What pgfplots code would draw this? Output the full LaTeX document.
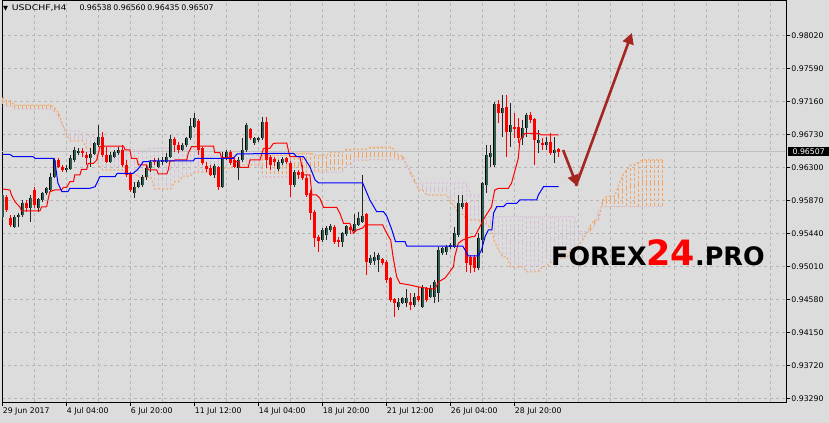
\documentclass[border=0pt]{standalone}
\usepackage{fontspec}
\setmainfont{DejaVu Sans}
\usepackage{pgfplots}
\pgfplotsset{compat=1.18}
\usepackage{pgfplotstable}
\usetikzlibrary{arrows.meta}
\definecolor{bg}{RGB}{220,220,220}
\definecolor{gridc}{RGB}{182,182,182}
\definecolor{bullc}{RGB}{46,92,78}
\definecolor{sandy}{RGB}{244,164,96}
\definecolor{thist}{RGB}{216,191,216}
\definecolor{arrowc}{RGB}{165,38,32}
\definecolor{pricec}{RGB}{192,192,192}
\pgfplotsset{nomark/.style={only marks, mark=*, mark size=0pt, mark options={draw=none, fill=none}}}

\pgfplotstableread{
i o h l c
0 0.95655 0.95968 0.95616 0.95942
1 0.95916 0.95942 0.95721 0.95747
2 0.95642 0.95681 0.95525 0.95551
3 0.95525 0.95681 0.95512 0.95655
4 0.95655 0.95708 0.95525 0.95681
5 0.95681 0.95877 0.95655 0.95838
6 0.95838 0.95877 0.95721 0.95773
7 0.95773 0.95942 0.95590 0.95903
8 0.96008 0.96047 0.95773 0.95812
9 0.95773 0.95903 0.95721 0.95890
10 0.95877 0.95981 0.95851 0.95968
11 0.95968 0.96047 0.95942 0.96034
12 0.96008 0.96229 0.95981 0.96177
13 0.96177 0.96425 0.96164 0.96399
14 0.96399 0.96425 0.96294 0.96308
15 0.96308 0.96334 0.96242 0.96268
16 0.96268 0.96334 0.96242 0.96294
17 0.96281 0.96464 0.96268 0.96425
18 0.96399 0.96568 0.96373 0.96529
19 0.96490 0.96555 0.96464 0.96516
20 0.96516 0.96555 0.96438 0.96490
21 0.96464 0.96503 0.96334 0.96425
22 0.96425 0.96555 0.96308 0.96477
23 0.96477 0.96634 0.96464 0.96621
24 0.96595 0.96855 0.96568 0.96699
25 0.96699 0.96764 0.96438 0.96464
26 0.96464 0.96568 0.96360 0.96373
27 0.96373 0.96503 0.96360 0.96464
28 0.96438 0.96529 0.96425 0.96503
29 0.96490 0.96568 0.96464 0.96529
30 0.96529 0.96595 0.96308 0.96334
31 0.96334 0.96399 0.96177 0.96203
32 0.96229 0.96242 0.95981 0.96008
33 0.95968 0.96112 0.95903 0.96047
34 0.96047 0.96138 0.96034 0.96112
35 0.96073 0.96203 0.96047 0.96177
36 0.96177 0.96334 0.96138 0.96294
37 0.96294 0.96399 0.96242 0.96373
38 0.96399 0.96425 0.96334 0.96373
39 0.96308 0.96425 0.96294 0.96386
40 0.96373 0.96438 0.96334 0.96399
41 0.96373 0.96490 0.96360 0.96438
42 0.96438 0.96725 0.96425 0.96673
43 0.96673 0.96699 0.96503 0.96595
44 0.96595 0.96634 0.96490 0.96529
45 0.96529 0.96621 0.96516 0.96595
46 0.96595 0.96699 0.96568 0.96686
47 0.96686 0.96947 0.96660 0.96842
48 0.96829 0.97012 0.96816 0.96947
49 0.96908 0.96934 0.96464 0.96529
50 0.96555 0.96568 0.96334 0.96360
51 0.96321 0.96373 0.96242 0.96281
52 0.96294 0.96334 0.96190 0.96203
53 0.96203 0.96347 0.96164 0.96321
54 0.96308 0.96321 0.96008 0.96047
55 0.96047 0.96503 0.96034 0.96438
56 0.96425 0.96529 0.96399 0.96503
57 0.96503 0.96529 0.96334 0.96360
58 0.96399 0.96425 0.96294 0.96308
59 0.96294 0.96438 0.96138 0.96399
60 0.96399 0.96686 0.96373 0.96529
61 0.96529 0.96882 0.96503 0.96855
62 0.96803 0.96816 0.96660 0.96686
63 0.96621 0.96699 0.96595 0.96686
64 0.96660 0.96699 0.96634 0.96686
65 0.96686 0.96960 0.96660 0.96895
66 0.96895 0.96960 0.96294 0.96399
67 0.96438 0.96464 0.96268 0.96334
68 0.96412 0.96438 0.96321 0.96373
69 0.96281 0.96399 0.96255 0.96373
70 0.96360 0.96438 0.96334 0.96412
71 0.96425 0.96438 0.96347 0.96373
72 0.96360 0.96386 0.95916 0.96073
73 0.96073 0.96268 0.96047 0.96242
74 0.96242 0.96268 0.96151 0.96203
75 0.96242 0.96334 0.96138 0.96164
76 0.96164 0.96203 0.95916 0.95942
77 0.95968 0.96008 0.95616 0.95708
78 0.95721 0.95747 0.95264 0.95381
79 0.95394 0.95421 0.95199 0.95342
80 0.95355 0.95512 0.95329 0.95486
81 0.95421 0.95538 0.95355 0.95512
82 0.95486 0.95564 0.95460 0.95538
83 0.95525 0.95551 0.95303 0.95329
84 0.95355 0.95394 0.95264 0.95329
85 0.95329 0.95460 0.95264 0.95447
86 0.95434 0.95551 0.95407 0.95538
87 0.95525 0.95551 0.95434 0.95486
88 0.95473 0.95694 0.95460 0.95564
89 0.95551 0.95721 0.95538 0.95642
90 0.95590 0.96203 0.95577 0.95668
91 0.95694 0.95708 0.94899 0.95068
92 0.95055 0.95160 0.95029 0.95120
93 0.95081 0.95199 0.95029 0.95134
94 0.95094 0.95186 0.94938 0.95160
95 0.95107 0.95120 0.95029 0.95055
96 0.95068 0.95094 0.94794 0.94833
97 0.94860 0.94873 0.94546 0.94573
98 0.94586 0.94599 0.94351 0.94533
99 0.94481 0.94599 0.94442 0.94546
100 0.94533 0.94612 0.94520 0.94599
101 0.94533 0.94716 0.94481 0.94599
102 0.94546 0.94664 0.94442 0.94507
103 0.94507 0.94664 0.94481 0.94612
104 0.94625 0.94742 0.94546 0.94573
105 0.94481 0.94768 0.94468 0.94742
106 0.94729 0.94742 0.94546 0.94573
107 0.94612 0.94768 0.94599 0.94729
108 0.94612 0.94833 0.94533 0.94807
109 0.94664 0.95264 0.94546 0.95225
110 0.95186 0.95264 0.95160 0.95251
111 0.95199 0.95290 0.95160 0.95264
112 0.95264 0.95316 0.95238 0.95290
113 0.95264 0.95525 0.95251 0.95447
114 0.95421 0.95942 0.95394 0.95838
115 0.95786 0.95942 0.95760 0.95838
116 0.95838 0.95851 0.94938 0.95055
117 0.95134 0.95160 0.94925 0.95029
118 0.95134 0.95160 0.94938 0.94990
119 0.94990 0.95447 0.94964 0.95381
120 0.95355 0.96112 0.95186 0.96099
121 0.96073 0.96595 0.95968 0.96464
122 0.96438 0.96595 0.96308 0.96490
123 0.96334 0.97155 0.96308 0.97129
124 0.97129 0.97182 0.96882 0.97012
125 0.97012 0.97247 0.96699 0.97077
126 0.97090 0.97247 0.96438 0.96764
127 0.96764 0.97142 0.96568 0.96855
128 0.96829 0.97012 0.96686 0.96803
129 0.96829 0.96947 0.96621 0.96686
130 0.96686 0.96921 0.96595 0.96816
131 0.96816 0.97012 0.96699 0.96986
132 0.96986 0.97025 0.96882 0.96921
133 0.96934 0.96947 0.96334 0.96660
134 0.96621 0.96790 0.96490 0.96660
135 0.96621 0.96686 0.96529 0.96595
136 0.96595 0.96699 0.96529 0.96634
137 0.96634 0.96751 0.96464 0.96490
138 0.96490 0.96699 0.96360 0.96529
139 0.96538 0.96560 0.96435 0.96507
}\candles

\pgfplotstableread{
i a b
0 0.97221 0.97103
1 0.97169 0.97103
2 0.97169 0.97103
3 0.97116 0.97064
4 0.97116 0.97064
5 0.97116 0.97064
6 0.97116 0.97064
7 0.97116 0.97064
8 0.97116 0.97064
9 0.97116 0.97064
10 0.97116 0.97064
11 0.97116 0.97064
12 0.97116 0.97064
13 0.97077 0.97025
14 0.97012 0.96947
15 0.96855 0.96855
16 0.96725 0.96777
17 0.96647 0.96777
18 0.96647 0.96777
19 0.96647 0.96777
20 0.96647 0.96751
21 0.96555 0.96751
22 0.96555 0.96699
23 0.96555 0.96699
24 0.96334 0.96568
25 0.96268 0.96568
26 0.96268 0.96568
27 0.96268 0.96568
28 0.96268 0.96568
29 0.96268 0.96568
30 0.96268 0.96568
31 0.96216 0.96568
32 0.96216 0.96568
33 0.96216 0.96529
34 0.96177 0.96529
35 0.96177 0.96529
36 0.96177 0.96529
37 0.96177 0.96555
38 0.96021 0.96555
39 0.96021 0.96555
40 0.96021 0.96555
41 0.96021 0.96555
42 0.96021 0.96555
43 0.96112 0.96555
44 0.96112 0.96555
45 0.96190 0.96555
46 0.96190 0.96555
47 0.96190 0.96555
48 0.96242 0.96555
49 0.96242 0.96464
50 0.96242 0.96464
51 0.96242 0.96464
52 0.96242 0.96464
53 0.96242 0.96464
54 0.96294 0.96464
55 0.96294 0.96464
56 0.96294 0.96464
57 0.96294 0.96464
58 0.96334 0.96464
59 0.96334 0.96464
60 0.96334 0.96464
61 0.96334 0.96464
62 0.96334 0.96464
63 0.96334 0.96464
64 0.96334 0.96464
65 0.96464 0.96177
66 0.96464 0.96177
67 0.96464 0.96177
68 0.96464 0.96177
69 0.96464 0.96177
70 0.96464 0.96177
71 0.96464 0.96177
72 0.96490 0.96177
73 0.96490 0.96177
74 0.96490 0.96177
75 0.96490 0.96177
76 0.96490 0.96177
77 0.96490 0.96177
78 0.96464 0.96242
79 0.96464 0.96242
80 0.96464 0.96242
81 0.96464 0.96242
82 0.96503 0.96242
83 0.96503 0.96242
84 0.96503 0.96242
85 0.96503 0.96242
86 0.96542 0.96334
87 0.96542 0.96334
88 0.96542 0.96399
89 0.96542 0.96399
90 0.96542 0.96399
91 0.96542 0.96399
92 0.96568 0.96399
93 0.96568 0.96399
94 0.96568 0.96399
95 0.96568 0.96399
96 0.96568 0.96399
97 0.96568 0.96399
98 0.96529 0.96399
99 0.96451 0.96399
100 0.96451 0.96399
101 0.96334 0.96334
102 0.96242 0.96203
103 0.96138 0.96099
104 0.96008 0.96099
105 0.96008 0.96099
106 0.95942 0.96099
107 0.95942 0.96099
108 0.95942 0.96099
109 0.95942 0.96099
110 0.95942 0.96099
111 0.95942 0.96099
112 0.95851 0.96099
113 0.95786 0.96099
114 0.95694 0.96099
115 0.95694 0.96099
116 0.95616 0.96099
117 0.95616 0.95942
118 0.95616 0.95942
119 0.95616 0.95942
120 0.95564 0.95942
121 0.95564 0.95659
122 0.95512 0.95659
123 0.95329 0.95659
124 0.95225 0.95659
125 0.95134 0.95659
126 0.95134 0.95659
127 0.95003 0.95659
128 0.95003 0.95659
129 0.95003 0.95659
130 0.95003 0.95659
131 0.94938 0.95659
132 0.94938 0.95659
133 0.94938 0.95659
134 0.94938 0.95659
135 0.95016 0.95659
136 0.95016 0.95659
137 0.95068 0.95659
138 0.95068 0.95659
139 0.95120 0.95659
140 0.95120 0.95659
141 0.95120 0.95659
142 0.95225 0.95659
143 0.95225 0.95659
144 0.95290 0.95464
145 0.95355 0.95464
146 0.95447 0.95464
147 0.95551 0.95464
148 0.95616 0.95551
149 0.95616 0.95747
150 0.95877 0.95790
151 0.95929 0.95790
152 0.95929 0.95790
153 0.95929 0.95790
154 0.96073 0.95790
155 0.96203 0.95790
156 0.96268 0.95790
157 0.96334 0.95790
158 0.96334 0.95790
159 0.96373 0.95790
160 0.96399 0.95790
161 0.96399 0.95790
162 0.96399 0.95790
163 0.96399 0.95790
164 0.96399 0.95790
165 0.96399 0.95790
}\cloud

\begin{document}
\begin{tikzpicture}
\useasboundingbox (0,0) rectangle (829bp,423bp);
\fill[bg] (0,0) rectangle (829bp,423bp);
\begin{axis}[
  at={(2bp,21bp)}, anchor=south west,
  scale only axis, width=784bp, height=401bp,
  xmin=-0.175, xmax=195.825, ymin=0.932419, ymax=0.98473,
  axis line style={black, line width=1bp},
  xtick={0,16,...,128},
  xticklabels={29 Jun 2017, 4 Jul 04:00, 6 Jul 20:00, 11 Jul 12:00, 14 Jul 04:00, 18 Jul 20:00, 21 Jul 12:00, 26 Jul 04:00, 28 Jul 20:00},
  minor xtick={8,24,40,56,72,88,104,120,136,144,152,160,168,176,184,192},
  ytick={0.9329,0.9372,0.9415,0.9458,0.9501,0.9544,0.9587,0.9630,0.9673,0.9716,0.9759,0.9802},
  yticklabels={0.93290,0.93720,0.94150,0.94580,0.95010,0.95440,0.95870,0.96300,0.96730,0.97160,0.97590,0.98020},
  xmajorgrids, xminorgrids, ymajorgrids,
  major grid style={gridc, dash pattern=on 3bp off 3bp, line width=0.8bp},
  minor grid style={gridc, dash pattern=on 3bp off 3bp, line width=0.8bp},
  tick align=outside, major tick length=4bp, minor tick length=0pt,
  xtick pos=left, ytick pos=right, yticklabel pos=right,
  tick style={black, line width=0.8bp},
  tick label style={font=\fontsize{7.8}{9}\selectfont},
  xticklabel style={anchor=north west, inner xsep=0pt, inner ysep=0pt, yshift=-1.5bp},
  yticklabel style={anchor=west, inner xsep=1.2bp},
]
% cloud hatch
\addplot[nomark, restrict expr to domain={\thisrow{a}-\thisrow{b}}{0:1},
  error bars/.cd, y dir=both, y explicit, error mark=none,
  error bar style={line width=1bp, sandy, dash pattern=on 3bp off 2bp}]
  table[x=i, y expr={(\thisrow{a}+\thisrow{b})/2}, y error expr={abs(\thisrow{a}-\thisrow{b})/2}] {\cloud};
\addplot[nomark, restrict expr to domain={\thisrow{b}-\thisrow{a}}{0.000001:1},
  error bars/.cd, y dir=both, y explicit, error mark=none,
  error bar style={line width=1bp, thist, dash pattern=on 3bp off 2bp}]
  table[x=i, y expr={(\thisrow{a}+\thisrow{b})/2}, y error expr={abs(\thisrow{a}-\thisrow{b})/2}] {\cloud};
\addplot[sandy, line width=1bp, dash pattern=on 2bp off 2bp] table[x=i, y=a] {\cloud};
\addplot[thist, line width=1bp, dash pattern=on 2bp off 2bp] table[x=i, y=b] {\cloud};
% current price line
\addplot[pricec, line width=1bp] coordinates {(-1,0.96507) (197,0.96507)};
% wicks
\addplot[nomark, restrict expr to domain={\thisrow{c}-\thisrow{o}}{0:1},
  error bars/.cd, y dir=both, y explicit, error mark=none,
  error bar style={line width=1bp, black!85}]
  table[x=i, y expr={(\thisrow{h}+\thisrow{l})/2}, y error expr={(\thisrow{h}-\thisrow{l})/2}] {\candles};
\addplot[nomark, restrict expr to domain={\thisrow{o}-\thisrow{c}}{0.000001:1},
  error bars/.cd, y dir=both, y explicit, error mark=none,
  error bar style={line width=1bp, red}]
  table[x=i, y expr={(\thisrow{h}+\thisrow{l})/2}, y error expr={(\thisrow{h}-\thisrow{l})/2}] {\candles};
% bodies
\addplot[nomark, restrict expr to domain={\thisrow{c}-\thisrow{o}}{0:1},
  error bars/.cd, y dir=both, y explicit, error mark=none,
  error bar style={line width=3.4bp, black}]
  table[x=i, y expr={(\thisrow{o}+\thisrow{c})/2}, y error expr={abs(\thisrow{c}-\thisrow{o})/2}] {\candles};
\addplot[nomark, restrict expr to domain={\thisrow{c}-\thisrow{o}}{0:1},
  error bars/.cd, y dir=both, y explicit, error mark=none,
  error bar style={line width=1.9bp, bullc}]
  table[x=i, y expr={(\thisrow{o}+\thisrow{c})/2}, y error expr={abs(\thisrow{c}-\thisrow{o})/2}] {\candles};
\addplot[nomark, restrict expr to domain={\thisrow{o}-\thisrow{c}}{0.000001:1},
  error bars/.cd, y dir=both, y explicit, error mark=none,
  error bar style={line width=3.2bp, red}]
  table[x=i, y expr={(\thisrow{o}+\thisrow{c})/2}, y error expr={abs(\thisrow{c}-\thisrow{o})/2}] {\candles};
% Tenkan-sen
\addplot[red, line width=1bp] coordinates {
(0,0.960205) (1.8,0.960075) (2.2,0.959423) (3.1,0.958509) (4.3,0.957857) (4.7,0.957336) (9.3,0.957336) (9.7,0.957857) (11,0.957896) (11.4,0.958992) (11.8,0.959853) (13,0.960075) (14.7,0.960075) (15.2,0.960427) (16,0.960427) (16.8,0.961157) (17.7,0.961157) (18,0.962032) (19.3,0.962032) (19.7,0.962775) (21,0.962775) (21.4,0.963558) (22.7,0.963558) (23.5,0.963988) (24.3,0.965723) (25.2,0.965723) (25.6,0.965814) (30.2,0.965814) (30.6,0.965293) (31.8,0.965293) (32.2,0.964210) (33.5,0.964210) (33.9,0.963336) (36,0.963336) (36.4,0.962684) (38.5,0.962684) (38.9,0.962162) (41,0.962162) (41.4,0.962684) (41.8,0.963858) (42.7,0.963858) (43.1,0.963988) (46,0.963988) (46.4,0.964902) (47.2,0.965723) (48.5,0.965723) (49.3,0.965814) (52.7,0.965814) (53,0.964941) (54.3,0.964941) (54.7,0.964288) (57.7,0.964288) (58.1,0.963767) (58.9,0.963767) (59.3,0.963036) (61.4,0.963036) (61.8,0.963988) (64.3,0.963988) (65.2,0.965515) (66.8,0.965515) (67.7,0.966167) (71,0.966206) (71.4,0.965293) (71.8,0.964419) (74.3,0.964419) (75.2,0.962032) (76.8,0.962032) (77.3,0.959423) (78.5,0.959423) (79.3,0.958992) (80.2,0.957818) (83.5,0.957818) (84.3,0.957035) (85.2,0.955731) (86.8,0.955731) (87.7,0.954426) (88.5,0.954857) (90,0.955117) (90.6,0.955509) (95,0.955509) (96,0.954426) (97,0.953552) (97.6,0.951335) (98.5,0.948726) (99.3,0.947904) (101.8,0.947682) (104,0.947421) (108,0.947121) (109,0.948113) (110.6,0.948595) (112.7,0.950069) (113,0.951374) (113.9,0.953122) (115,0.953552) (117.3,0.953996) (118,0.953996) (120.6,0.956592) (122.2,0.957896) (123,0.960075) (124,0.960297) (126.4,0.960297) (127.2,0.960949) (128.9,0.964210) (129.3,0.966597) (130.6,0.967471) (133.9,0.967471) (134.7,0.967250) (139,0.967250)};
% Kijun-sen
\addplot[blue, line width=1bp] coordinates {
(0,0.964732) (1.8,0.964732) (2.6,0.964419) (7.6,0.964419) (8.1,0.964210) (12.6,0.964210) (13.1,0.963597) (13.8,0.960988) (14.8,0.959853) (16.3,0.959853) (16.8,0.960297) (21.8,0.960297) (23.1,0.960505) (24.3,0.961810) (28.1,0.961810) (28.6,0.962253) (32.6,0.962253) (33.6,0.962684) (34.3,0.963114) (35.1,0.963767) (36.1,0.963767) (36.8,0.963858) (47.6,0.963858) (48.1,0.964210) (57.6,0.964210) (58.6,0.964771) (66.8,0.964836) (72.7,0.964862) (73.5,0.964419) (75.2,0.964419) (76.8,0.963114) (78.1,0.961379) (79,0.960988) (90,0.960988) (91.8,0.958770) (93.5,0.957244) (95.2,0.957244) (96,0.956683) (97.3,0.954857) (98.2,0.953330) (100.6,0.953330) (101,0.952769) (115,0.952769) (115.6,0.952248) (116.4,0.951465) (118.9,0.951465) (119.7,0.952248) (120.6,0.953996) (121.4,0.954857) (122.3,0.954857) (122.7,0.957035) (123.5,0.957896) (125.2,0.957896) (126,0.958340) (128.5,0.958340) (129.3,0.958770) (133.5,0.958770) (133.9,0.959423) (135.2,0.960505) (139,0.960505)};
% arrows
\addplot[arrowc, line width=2.6bp, -{Triangle[length=11bp,width=11bp]}] coordinates {(140.1,0.96529) (143.6,0.96060)};
\addplot[arrowc, line width=2.6bp, -{Triangle[length=11bp,width=11bp]}] coordinates {(143.3,0.96060) (157.3,0.98056)};
\end{axis}
% title
\node[anchor=base west, inner sep=0pt, font=\fontsize{6.5}{8}\selectfont] at (3bp,412.7bp) {▼};
\node[anchor=base west, inner sep=0pt, font=\fontsize{7.8}{9}\selectfont] at (11.7bp,412.7bp) {\scalebox{1.2}[1]{USDCHF,H4}};
\node[anchor=base west, inner sep=0pt, font=\fontsize{7.8}{9}\selectfont] at (79.3bp,412.7bp) {0.96538\hspace{-0.6bp} 0.96560\hspace{-0.6bp} 0.96435\hspace{-0.6bp} 0.96507};
% current price box
\node[anchor=west, fill=black, text=white, inner xsep=1.5bp, inner ysep=1.6bp, minimum width=41bp, font=\fontsize{7.8}{9}\selectfont] at (788bp,271.3bp) {0.96507};
% watermark
\node[anchor=base west, inner sep=0pt] at (551bp,157bp) {\bfseries\fontsize{25.5}{26}\selectfont FOREX{\color{red}\fontsize{35}{36}\selectfont 24}.PRO};
\end{tikzpicture}
\end{document}
